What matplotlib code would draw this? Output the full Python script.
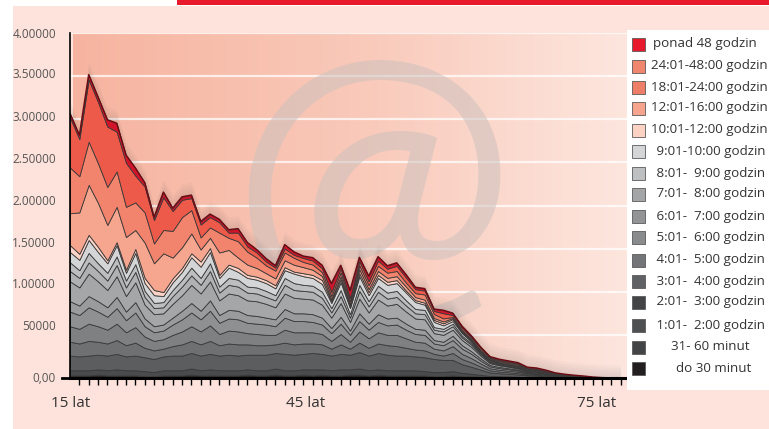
import numpy as np
import matplotlib
matplotlib.use("Agg")
import matplotlib.pyplot as plt
from matplotlib.patches import Rectangle
from matplotlib.colors import LinearSegmentedColormap

plt.rcParams['font.family'] = ['Open Sans', 'DejaVu Sans']

# ---------------- data (thousands of persons), ages 15..74 ----------------
ages = list(range(15, 75))

do30 = [3,3,3,4,3,3,3,3,2,2,3,3,3,4,3,3,3,3,3,4,3,3,4,3,3,4,3,4,3,3,4,4,3,4,3,3,3,3,3,2,2,
        3,2,2,1.2,.8,.7,.6,.5,.4,.3,.2,.2,.1,.1,.05,.02,.01,0,0]
m31_60 = [6,6,6,6,6,7,6,6,6,5,6,6,6,7,6,7,6,6,6,6,6,6,7,6,6,6,7,6,6,7,6,7,6,6,6,6,6,6,5,5,5,
          5,4,3,2.4,1.6,1.4,1.2,1,.7,.6,.5,.3,.2,.2,.1,.04,.02,.01,0]
h1_2 = [17,16,17,17,17,18,16,17,16,15,16,17,17,18,17,18,17,18,17,17,18,18,18,19,18,18,19,18,17,18,17,19,17,19,18,17,17,16,16,15,14,
        13,10,8,6,4,3.4,3,2.6,1.8,1.6,1.2,.8,.6,.4,.25,.1,.04,.02,0]
h2_3 = [16,15,17,15,14,16,13,15,11,10,9,11,13,14,13,15,12,13,13,12,11,11,10,13,12,12,11,11,8,11,7,11,9,11,11,11,9,8,8,6,5,
        8,6,5,3.6,2.4,2,1.8,1.6,1.1,1,.7,.5,.4,.2,.15,.06,.02,.01,0]
h3_4 = [18,17,20,18,16,19,15,18,13,11,11,13,15,17,15,18,13,15,15,13,13,12,11,15,14,13,13,12,9,12,8,13,11,13,12,13,11,9,9,6,6,
        8,6,5,3.6,2.4,2,1.8,1.6,1.1,1,.7,.5,.4,.2,.15,.06,.02,.01,0]
h4_5 = [17,16,19,17,15,18,14,17,12,10,10,12,14,16,14,17,13,14,14,12,12,12,10,14,13,13,12,11,9,12,8,12,10,12,11,12,10,9,9,6,6,
        7,6,5,3.3,2.2,1.9,1.7,1.4,1,.9,.7,.4,.3,.2,.13,.06,.02,.01,0]
h5_6 = [12,11,13,12,11,13,10,12,9,7,7,8,10,11,10,12,9,10,10,9,9,8,8,10,9,9,9,8,6,8,5,9,7,9,8,8,7,6,6,4,4,
        5,4,3,2.4,1.6,1.4,1.2,1,.7,.6,.5,.3,.2,.2,.1,.04,.02,.01,0]
h6_7 = [23,21,26,23,20,24,18,23,16,14,13,16,18,21,20,22,17,19,18,17,17,16,14,18,18,17,17,15,12,16,10,17,13,17,15,16,14,12,12,8,8,
        7,6,5,3.3,2.2,1.9,1.7,1.4,1,.9,.7,.4,.3,.2,.13,.06,.02,.01,0]
h7_8 = [12,11,13,12,11,13,10,12,9,7,7,9,10,11,10,12,9,10,10,9,9,8,8,10,9,9,9,8,6,8,5,9,7,9,8,8,7,6,6,4,4,
        4,3,2.5,1.8,1.2,1,.9,.8,.5,.5,.4,.3,.2,.1,.07,.03,.01,.01,0]
h8_9 = [10,9,11,9,9,10,8,9,7,6,6,7,8,9,8,9,7,8,8,7,7,7,6,8,8,7,7,7,5,7,4,7,6,7,7,7,6,5,5,3,3,
        3,2,1.7,1.2,.8,.7,.6,.5,.4,.3,.2,.2,.2,.1,.04,.02,.01,.01,0]
h9_10 = [12,12,15,13,11,13,9,13,9,9,7,9,9,12,13,13,10,12,9,10,9,9,8,9,11,10,9,9,6,9,7,10,7,9,9,9,9,8,6,6,4,
         3,3,1.8,1.2,.8,.6,.5,.6,.3,.3,.2,.1,.1,.1,.03,.01,.01,0,0]
h10_12 = [8,7,6,6,3.5,3.5,3.5,4.6,6,6, 4.6,4.6,4.6,4.6,6,4.6,3.5,3.5,4.6,3.5, 3.5,3.5,3.5,3.5,2.3,3.5,3.5,4.6,2.3,3.5,
          2.3,3.5,3.5,3.5,3.5,3.5,2.3,2.3,2.3,2.3, 2.3,2.3,1.2,1.2,.6,1.2,.6,.6,.6,.6, .6,.35,.25,.1,.1,.1,0,0,0,0]
h12_16 = [37,48,58,51,41,41,38,22,41,31, 45,24,24,23,14,12,26,17,12,12, 10,8,8,8,8,7,6,4.6,2.3,3.5,
          2.3,4.6,3.5,4.6,4.6,4.6,4.6,3.5,3.5,2.3, 2.3,1.2,1.2,1.2,.6,.6,.6,.6,.6,.6, .6,.35,.25,.1,.1,.1,.1,.05,0,0]
h18_24 = [53,42,50,46,44,41,35,32,35,23, 27,31,35,27,14,12,23,14,19,15, 12,9,9,9,8,6,6,4.6,3.5,4.6,
          3.5,4.6,4.6,6,6,6,4.6,4.6,6,4.6, 3.5,1.2,1.2,1.2,1.2,.6,1.2,1.2,1.2,.6, .6,.6,.35,.25,.25,.25,.1,.05,0,0]
h24_48 = [58,43,72,71,70,46,51,31,30,27, 38,23,20,14,15,12,12,6,10,6, 6,4.6,3.5,4.6,3.5,4.6,4.6,4.6,4.6,4.6,
          3.5,4.6,4.6,6,4.6,6,6,4.6,4.6,3.5, 6,2.3,2.3,1.7,2.3,1.2,1.2,1.2,1.2,.6, .6,.6,.45,.35,.35,.25,.25,.1,.05,0]
over48 = [4.6,4.6,5.8,5.8,8,10,9,9,4.6,3.5, 6,3.5,3.5,3.5,3.5,3.5,3.5,3.5,4.6,4.6, 3.5,3.5,2.3,4.6,3.5,2.3,3.5,3.5,10,3.5,
          9,4.6,6,4.6,3.5,3.5,3.5,2.3,2.3,2.3, 3.5,2.3,2.3,1.7,1.2,1.2,1.2,1.2,1.2,1.2, 1.2,1.2,.7,.6,.45,.45,.25,.1,.05,0]

series = [do30, m31_60, h1_2, h2_3, h3_4, h4_5, h5_6, h6_7, h7_8, h8_9, h9_10,
          h10_12, h12_16, h18_24, h24_48, over48]

labels_top_down = ["ponad 48 godzin", "24:01-48:00 godzin", "18:01-24:00 godzin",
                   "12:01-16:00 godzin", "10:01-12:00 godzin", " 9:01-10:00 godzin",
                   " 8:01-  9:00 godzin", " 7:01-  8:00 godzin", " 6:01-  7:00 godzin",
                   " 5:01-  6:00 godzin", " 4:01-  5:00 godzin", " 3:01-  4:00 godzin",
                   " 2:01-  3:00 godzin", " 1:01-  2:00 godzin", "31- 60 minut", "do 30 minut"]

ytick_labels = ["0,00", "50000", "1.00000", "1.50000", "2.00000", "2.50000",
                "3.00000", "3.50000", "4.00000"]
xlabel_texts = ["15 lat", "45 lat", "75 lat"]

# ---------------- styling ----------------
chart_colors = ['#2b2728', '#4a4b4d', '#5c5d5f', '#6f7072', '#7f8082', '#8f9092',
                '#9a9b9d', '#a5a6a8', '#b0b1b3', '#bdbec0', '#d3d5d7',
                '#fbd3c6', '#f6a58f', '#f2836c', '#ee5a4a', '#d2142a']
legend_colors = ['#e8192c', '#f0866e', '#ef7e68', '#f6a48e', '#fcd2c4', '#d4d5d7',
                 '#bebfc1', '#a4a5a7', '#939496', '#8a8b8d', '#747578', '#606164',
                 '#434446', '#4e4f51', '#434446', '#231f20']

W, H = 769, 429
fig = plt.figure(figsize=(W / 100, H / 100), dpi=100)
fig.patch.set_facecolor('white')
fig.add_artist(Rectangle((13 / W, 0), 1, 1 - 6 / H, transform=fig.transFigure,
                         facecolor='#fde3db', edgecolor='none', zorder=-10))
fig.add_artist(Rectangle((177 / W, 1 - 5 / H), 1, 5 / H, transform=fig.transFigure,
                         facecolor='#e8192c', edgecolor='none', zorder=-9))

ax = fig.add_axes([70 / W, 1 - 378 / H, 560 / W, 345 / H])
ax.set_xlim(15, 75)
ax.set_ylim(0, 400)
ax.patch.set_alpha(0)

cmap = LinearSegmentedColormap.from_list('bg', ['#f6b4a0', '#f9c8b8', '#fde6de'])
ax.imshow(np.linspace(0, 1, 256)[None, :], extent=[15.3, 74.6, 0, 400], cmap=cmap,
          aspect='auto', zorder=0, interpolation='bilinear')
for v in range(50, 401, 50):
    ax.axhline(v, color='white', lw=1.6, alpha=0.75, zorder=1)

ax.text(0.54, 0.53, '@', transform=ax.transAxes, ha='center', va='center',
        fontsize=245, color='#cdc1bd', alpha=0.55, zorder=1.5,
        family=['Lato', 'Open Sans'], fontweight='normal')

total = np.sum(np.array(series, dtype=float), axis=0)
for d in [3, 6, 9, 12, 15]:
    ax.fill_between(ages, 0, total + d, color='#555555', alpha=0.03, lw=0, zorder=2)

ax.stackplot(ages, *series, colors=chart_colors, edgecolor='#3a3a3a',
             linewidth=0.6, zorder=3)
ax.plot(ages, total, color='#6e0a12', lw=1.0, zorder=4)

# axes styling
for s in ['top', 'right']:
    ax.spines[s].set_visible(False)
ax.spines['left'].set_linewidth(1.2)
ax.spines['bottom'].set_linewidth(2.2)
ax.spines['left'].set_zorder(5)
ax.spines['bottom'].set_zorder(5)

label_py = [377, 325, 283, 242, 200, 158, 116, 73, 33]
ax.set_yticks([(378 - p) * 400 / 345 for p in label_py])
ax.set_yticklabels(ytick_labels, fontsize=8.5, color='#555555')
ax.tick_params(axis='y', length=0, pad=10)
ax.plot([-8 / 560, 0], [0, 0], transform=ax.transAxes, clip_on=False, color='black', lw=2)

ax.set_xticks([15.05, 40.2, 71.4])
ax.set_xticklabels(xlabel_texts, fontsize=11, color='#333333')
ax.tick_params(axis='x', which='major', length=0, pad=13)
ax.set_xticks(range(16, 76), minor=True)
ax.tick_params(axis='x', which='minor', length=5, width=1, color='black', direction='out')

# legend panel
fig.add_artist(Rectangle((627 / W, 1 - 390 / H), 1, 360 / H, transform=fig.transFigure,
                         facecolor='white', edgecolor='none', zorder=6))
row_py = [44, 66, 87, 108, 130, 151, 173, 194, 216, 238, 260, 281, 302, 325, 347, 368]
text_px = [653, 651, 651, 651, 651, 653, 653, 653, 653, 653, 653, 653, 653, 653, 671, 676]
for lab, col, py, tx in zip(labels_top_down, legend_colors, row_py, text_px):
    fig.add_artist(Rectangle((632 / W, 1 - (py + 6.5) / H), 13 / W, 13 / H,
                             transform=fig.transFigure, facecolor=col,
                             edgecolor='#5a5a5a', lw=0.6, zorder=7))
    fig.text(tx / W, 1 - py / H, lab, fontsize=9.6, color='#333333', ha='left',
             va='center', zorder=8)

fig.savefig('out.png', dpi=100)
